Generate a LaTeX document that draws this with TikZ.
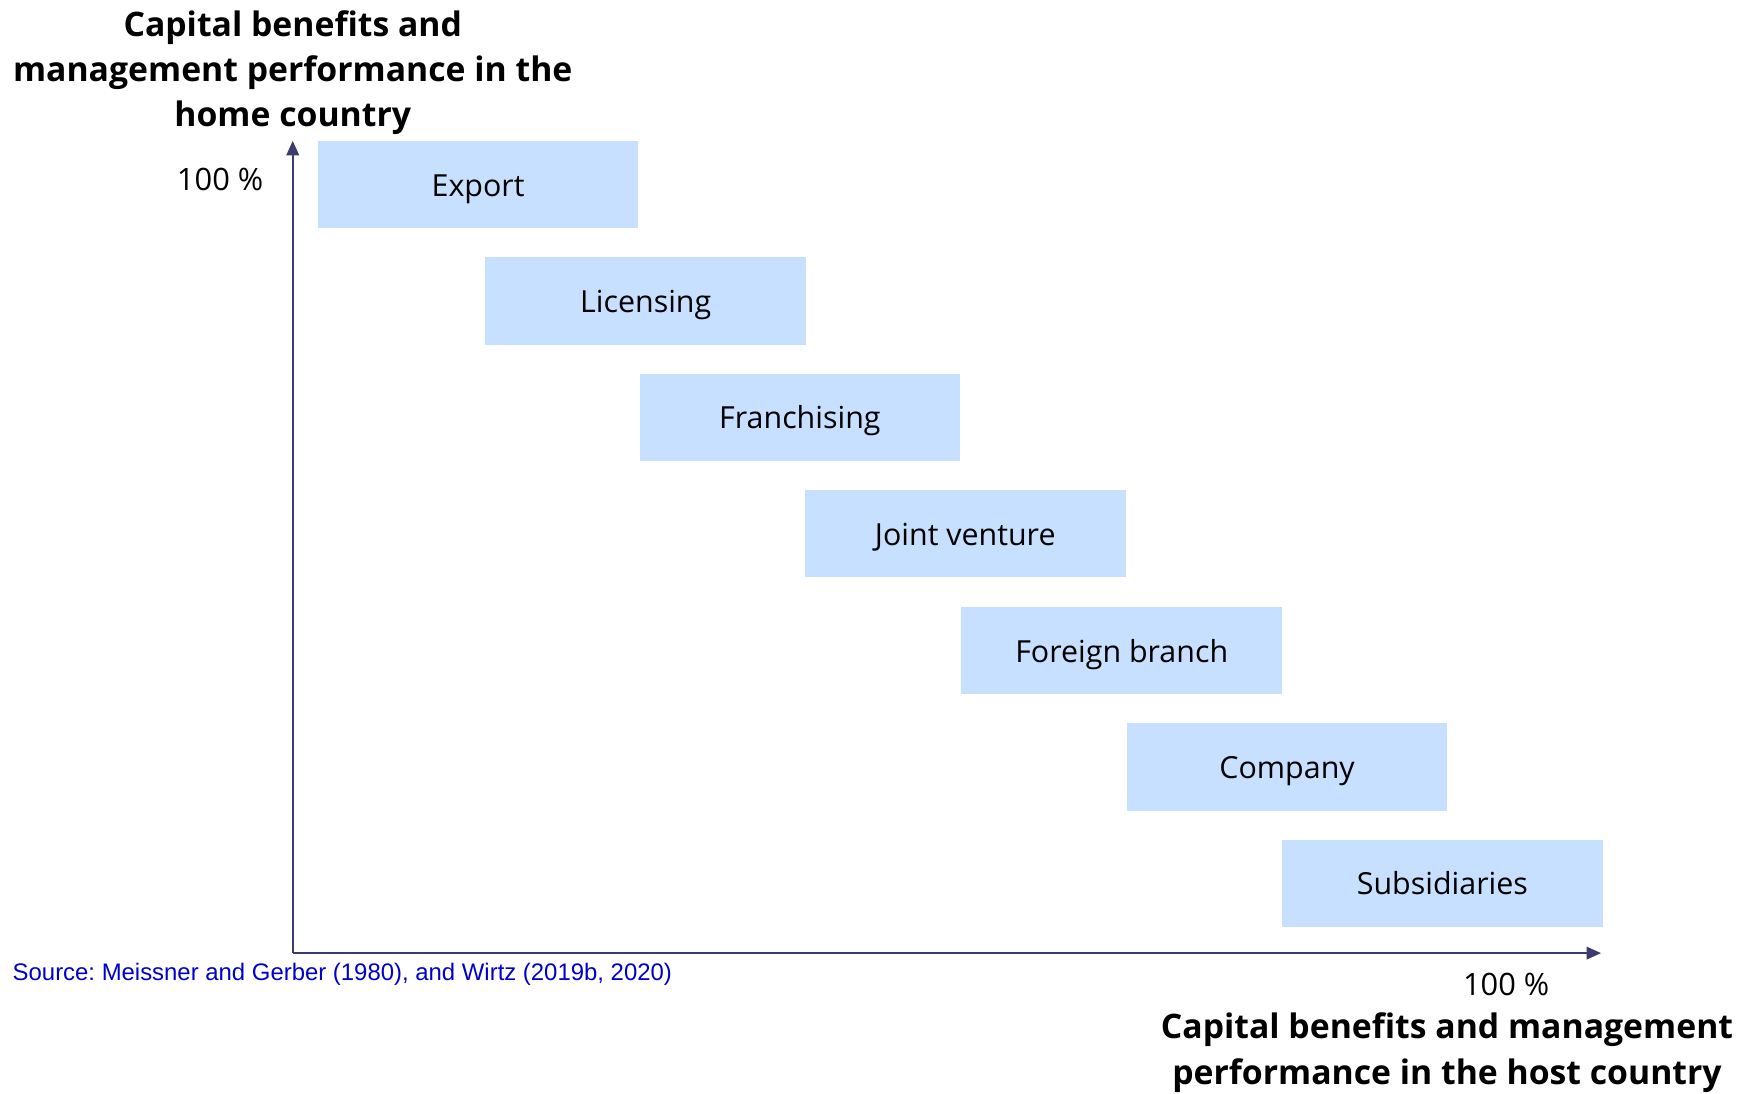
\documentclass[tikz,border=0pt]{standalone}
\usepackage{fontspec}
\setmainfont{Open Sans}
\newfontfamily\srcfont{Liberation Sans}
\usepackage{tikz}
\usetikzlibrary{arrows.meta,calc,positioning}
\definecolor{boxblue}{RGB}{199,224,255}
\definecolor{axisnavy}{RGB}{59,59,109}
\definecolor{srcblue}{RGB}{0,0,204}

\tikzset{
  entrybox/.style={fill=boxblue, anchor=north west, minimum width=143.5pt,
    minimum height=39pt, inner sep=0pt, text height=10.4pt, text depth=0pt,
    font=\fontsize{13.6}{15}\selectfont},
  axisline/.style={draw=axisnavy, line width=1.1pt, -{Triangle[length=6.5pt,width=5.5pt]}},
  axistitle/.style={align=center, font=\fontsize{15.1}{20.25}\selectfont\bfseries},
  pctlabel/.style={font=\fontsize{13.8}{15}\selectfont}
}

\begin{document}
\frenchspacing
\begin{tikzpicture}[x=0.5pt,y=-0.5pt]
                \useasboundingbox (0,0) rectangle (1568,979);
                \coordinate (origin) at (262, 853);
                \coordinate (ytip) at (262, 126);
                \coordinate (xtip) at (1433, 853);
                \node[entrybox] (export) at (284, 126) {Export};
                \node[entrybox] (licensing) at (434, 230) {Licensing};
                \node[entrybox] (franchising) at (572, 334) {Franchising};
                \node[entrybox] (jointventure) at (720, 438) {Joint venture};
                \node[entrybox] (branch) at (860, 543) {Foreign branch};
                \node[entrybox] (company) at (1008, 647) {Company};
                \node[entrybox] (subsidiaries) at (1147, 751) {Subsidiaries};
                \draw[axisline] (origin) -- (ytip);
                \draw[axisline] (origin) -- (xtip);
                \node[axistitle] (hometitle) at (262, 65) {Capital benefits and\\management performance in the\\home country};
                \node[axistitle] (hosttitle) at (1295, 942) {Capital benefits and management\\performance in the host country};
                \node[pctlabel] (ymax) at (197, 161) {100 \%};
                \node[pctlabel] (xmax) at (1348, 881) {100 \%};
                \node[anchor=west, inner sep=0pt, text=srcblue, font=\srcfont\fontsize{10.7}{12}\selectfont] (source) at (11, 872) {Source: Meissner and Gerber (1980), and Wirtz (2019b, 2020)};
            \end{tikzpicture}
\end{document}
